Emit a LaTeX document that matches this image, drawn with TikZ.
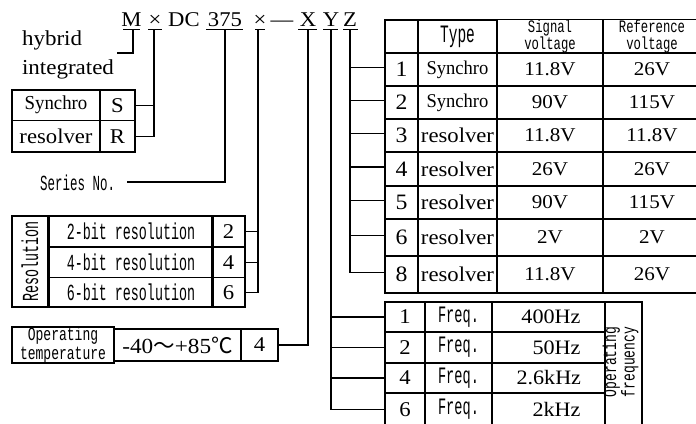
\documentclass[tikz,border=0pt]{standalone}
\usepackage{fontspec}
\setmainfont{Liberation Serif}[FakeStretch=1.08]
\newfontfamily\srN{Liberation Serif}[FakeStretch=0.95]
\newfontfamily\mnA{Liberation Mono}[FakeStretch=0.58]
\newfontfamily\mnB{Liberation Mono}[FakeStretch=0.7]
\newfontfamily\cjk{Noto Sans CJK SC}
\newcommand\fsz[1]{\fontsize{#1}{#1}\selectfont}
\begin{document}
\begin{tikzpicture}[x=1pt,y=-1pt,line width=1.15pt,
  every node/.style={inner sep=0pt,outer sep=0pt},
  cell/.style 2 args={draw,minimum width=#1*1pt,minimum height=#2*1pt},
  code/.style={font=\fsz{21},anchor=base},
  ul/.style={line width=1.15pt}]
\useasboundingbox (0,0) rectangle (696,423);
\fill[white] (0,0) rectangle (696,423);

% ---- code line
\node[code] (cM) at (131.5,27) {M};
\node[code] (cx1) at (155,27) {×};
\node[code] (cDC) at (184,27) {DC};
\node[code] (c375) at (225,27) {375};
\node[code] (cx2) at (260,27) {×};
\node[code] (cdash) at (282,27) {—};
\node[code] (cX) at (308,27) {X};
\node[code] (cY) at (331,27) {Y};
\node[code] (cZ) at (350,27) {Z};
\draw[ul] (123,29.5) -- (140,29.5);
\draw[ul] (148,29.5) -- (162,29.5);
\draw[ul] (206,29.5) -- (243,29.5);
\draw[ul] (255,29.5) -- (265,29.5);
\draw[ul] (298,29.5) -- (317,29.5);
\draw[ul] (323,29.5) -- (338,29.5);
\draw[ul] (343,29.5) -- (358,29.5);
\coordinate (uM) at (133,29.5);
\coordinate (ux1) at (154,29.5);
\coordinate (u375) at (225,29.5);
\coordinate (ux2) at (258,29.5);
\coordinate (uX) at (308,29.5);
\coordinate (uY) at (331,29.5);
\coordinate (uZ) at (350,29.5);

% ---- hybrid integrated
\node[font=\fsz{21.3},anchor=base west] (hybrid) at (22,45) {hybrid};
\node[font=\fsz{21.3},anchor=base west] (integ) at (22,74) {integrated};
\coordinate (hyb) at (117,53);
\draw (uM) |- (hyb);

% ---- Synchro / resolver
\node[cell={88}{30.5},font=\srN\fsz{19.8}] (syn) at (56,105.25) {Synchro};
\node[cell={35}{30.5},font=\fsz{21}] (S) at (117.5,105.25) {S};
\node[cell={88}{31.5},font=\fsz{21}] (res) at (56,136.25) {resolver};
\node[cell={35}{31.5},font=\fsz{21}] (R) at (117.5,136.25) {R};
\draw (ux1) |- (R.east);
\draw (S.east) -- (S.east -| ux1);

% ---- Series No.
\node[font=\mnA\fsz{21.5},anchor=east] (series) at (115,183) {Series No.};
\coordinate (ser) at (127,182);
\draw (u375) |- (ser);

% ---- Resolution
\node[cell={36}{91}] (resl) at (30,261.5) {};
\node[rotate=90,font=\mnA\fsz{23}] (restxt) at (resl.center) {Resolution};
\foreach \k/\y/\h in {2/216/31,4/247/30.5,6/277.5/29.5}{
  \node[cell={164}{\h},font=\mnA\fsz{23}] (rt\k) at (131,\y+\h/2) {\k-bit resolution};
  \node[cell={33}{\h},font=\fsz{21}] (r\k) at (228.5,\y+\h/2) {\k};
}
\draw (ux2) |- (r6.east);
\draw (r2.east) -- (r2.east -| ux2);
\draw (r4.east) -- (r4.east -| ux2);

% ---- Operating temperature
\node[cell={102}{32},font=\mnB\fsz{18.6},align=center] (t1) at (63,345)
  {\baselineskip=12.5pt Operating\\temperature};
\node[cell={127}{32},font=\fsz{21.5}] (t2) at (177.5,345) {-40{\cjk ～}+85{\cjk ℃}};
\node[cell={37}{32},font=\fsz{21}] (t4) at (259.5,345) {4};
\draw (uX) |- (t4.east);

% ---- type / voltage table
\node[cell={33}{33}] (h0) at (401.5,36.5) {};
\node[cell={79}{33},font=\mnA\fsz{25}] (h1) at (457.5,36.5) {Type};
\node[cell={106}{33},font=\mnB\fsz{17.5},align=center] (h2) at (550,36.5)
  {\baselineskip=12.5pt Signal\\voltage};
\node[cell={97}{33},font=\mnB\fsz{17.5},align=center] (h3) at (652,36.5)
  {\baselineskip=12.5pt Reference\\voltage};
\foreach \k/\y/\h/\t/\tf/\s/\r in {
  1/53/33/Synchro/\srN\fsz{19.5}/11.8V/26V,
  2/86/33/Synchro/\srN\fsz{19.5}/90V/115V,
  3/119/33/resolver/\fsz{21}/11.8V/11.8V,
  4/152/34/resolver/\fsz{21}/26V/26V,
  5/186/33/resolver/\fsz{21}/90V/115V,
  6/219/37/resolver/\fsz{21}/2V/2V,
  8/256/37/resolver/\fsz{21}/11.8V/26V}{
  \node[cell={33}{\h},font=\fsz{22}] (n\k) at (401.5,\y+\h/2) {\k};
  \node[cell={79}{\h},font=\tf] (ty\k) at (457.5,\y+\h/2) {\t};
  \node[cell={106}{\h},font=\fsz{19.5}] (sv\k) at (550,\y+\h/2) {\s};
  \node[cell={97}{\h},font=\fsz{19.5}] (rv\k) at (652,\y+\h/2) {\r};
}
\draw (uZ) |- ([yshift=2pt]n8.west);
\foreach \k in {1,2,3,4,5,6}{
  \draw ([yshift=2pt]n\k.west) -- ([yshift=2pt]n\k.west -| uZ);
}

% ---- frequency table
\foreach \k/\y/\h/\v in {1/302/30/400Hz,2/332/31/50Hz,4/363/30/2.6kHz,6/393/33/2kHz}{
  \node[cell={40}{\h},font=\fsz{21}] (f\k) at (405,\y+\h/2) {\k};
  \node[cell={67}{\h},font=\mnA\fsz{23.5}] (fq\k) at (458.5,\y+\h/2) {Freq.};
  \node[cell={113}{\h},font=\fsz{20.5},text width=64pt,align=right] (fv\k) at (548.5,\y+\h/2) {\v};
}
\node[cell={37}{124}] (fo) at (623.5,364) {};
\node[rotate=90,font=\mnB\fsz{18.6},align=center] (fotxt) at (620.5,362)
  {\baselineskip=12.5pt Operating\\frequency};
\draw (uY) |- (f6.west);
\foreach \k in {1,2,4}{
  \draw (f\k.west) -- (f\k.west -| uY);
}
\end{tikzpicture}
\end{document}
